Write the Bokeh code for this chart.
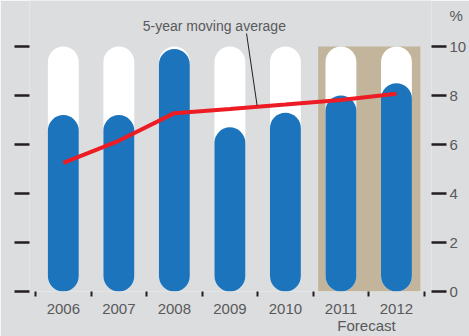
from bokeh.plotting import figure
from bokeh.models import Range1d, LinearAxis, FixedTicker, Label, ColumnDataSource
from bokeh.embed import file_html
from bokeh.resources import INLINE

# ---- data ----
years = ["2006", "2007", "2008", "2009", "2010", "2011", "2012"]
values = [7.2, 7.2, 9.9, 6.7, 7.3, 8.0, 8.5]
moving_avg = [5.25, 6.15, 7.28, 7.45, 7.63, 7.82, 8.07]
forecast_years = ["2011", "2012"]
y_ticks = [0, 2, 4, 6, 8, 10]
scale_max = 10
unit_label = "%"
annotation_text = "5-year moving average"
forecast_text = "Forecast"

FONT = "Liberation Sans, Arial, sans-serif"
BG = "#dcdddf"
BLUE = "#1c75bc"
TAN = "#c2b59b"
RED = "#ed1c24"
TXT = "#58595b"
TICK = "#231f20"

idx = list(range(len(years)))

p = figure(width=469, height=336, output_backend="svg", toolbar_location=None,
           x_range=Range1d(-0.609, 6.631), y_range=Range1d(0, 11.878),
           min_border_left=29, min_border_right=36, min_border_top=0, min_border_bottom=45)
p.background_fill_color = BG
p.border_fill_color = BG
p.outline_line_color = None
p.grid.visible = False

# forecast shading
f0 = years.index(forecast_years[0])
f1 = years.index(forecast_years[-1])
p.quad(left=[f0 - 0.41], right=[f1 + 0.43], bottom=[0], top=[scale_max],
       fill_color=TAN, line_color=None)

bar_w = 0.556
src = ColumnDataSource(dict(x=idx, v=values, full=[scale_max] * len(idx)))
p.vbar(x="x", top="full", bottom=0, width=bar_w, source=src,
       fill_color="white", line_color=None, border_radius=16)
p.vbar(x="x", top="v", bottom=0, width=bar_w, source=src,
       fill_color=BLUE, line_color=None, border_radius=16)

# moving average line
p.line(idx, moving_avg, line_color=RED, line_width=4)

# annotation
p.segment(x0=[3.30], y0=[10.53], x1=[3.49], y1=[7.59], line_color="#231f20", line_width=1)
p.add_layout(Label(x=2.72, y=10.84, text=annotation_text, text_align="center",
                   text_baseline="middle", text_font=FONT, text_font_size="14px",
                   text_color=TXT))

# ---- bottom axis: years at centres, short ticks at boundaries, "Forecast" below ----
fc_pos = (f0 + f1) / 2 - 0.04
xa = p.xaxis[0]
xa.ticker = FixedTicker(ticks=idx + [fc_pos],
                        minor_ticks=[i - 0.5 for i in idx] + [idx[-1] + 0.5])
overrides = {i: y for i, y in zip(idx, years)}
overrides[fc_pos] = " \n" + forecast_text
xa.major_label_overrides = overrides
xa.axis_line_color = None
xa.major_tick_line_color = None
xa.major_tick_out = 0
xa.major_tick_in = 0
xa.minor_tick_line_color = TICK
xa.minor_tick_line_width = 2
xa.minor_tick_out = 5
xa.minor_tick_in = 0
xa.major_label_standoff = 3
xa.major_label_text_font = FONT
xa.major_label_text_font_size = "15px"
xa.major_label_text_line_height = 1.0
xa.major_label_text_color = TXT

# ---- left axis (ticks only) ----
ya = p.yaxis[0]
ya.ticker = FixedTicker(ticks=y_ticks)
ya.axis_line_color = None
ya.minor_tick_line_color = None
ya.major_tick_line_color = TICK
ya.major_tick_line_width = 2.5
ya.major_tick_out = 15
ya.major_tick_in = 0
ya.major_label_text_font_size = "0px"
ya.major_label_standoff = 0

# ---- right axis: dashes as minor ticks, labels (plus "%") as major labels ----
unit_pos = 11.25
ra = LinearAxis(ticker=FixedTicker(ticks=y_ticks + [unit_pos], minor_ticks=y_ticks))
r_over = {t: str(t) for t in y_ticks}
r_over[unit_pos] = unit_label
ra.major_label_overrides = r_over
ra.axis_line_color = None
ra.major_tick_line_color = None
ra.major_tick_out = 0
ra.major_tick_in = 0
ra.minor_tick_line_color = TICK
ra.minor_tick_line_width = 2.5
ra.minor_tick_out = 15
ra.minor_tick_in = 0
ra.major_label_standoff = 3
ra.major_label_text_font = FONT
ra.major_label_text_font_size = "15px"
ra.major_label_text_baseline = "alphabetic"
ra.major_label_text_color = TXT
p.add_layout(ra, "right")

open("out.html", "w").write(file_html(p, INLINE))
